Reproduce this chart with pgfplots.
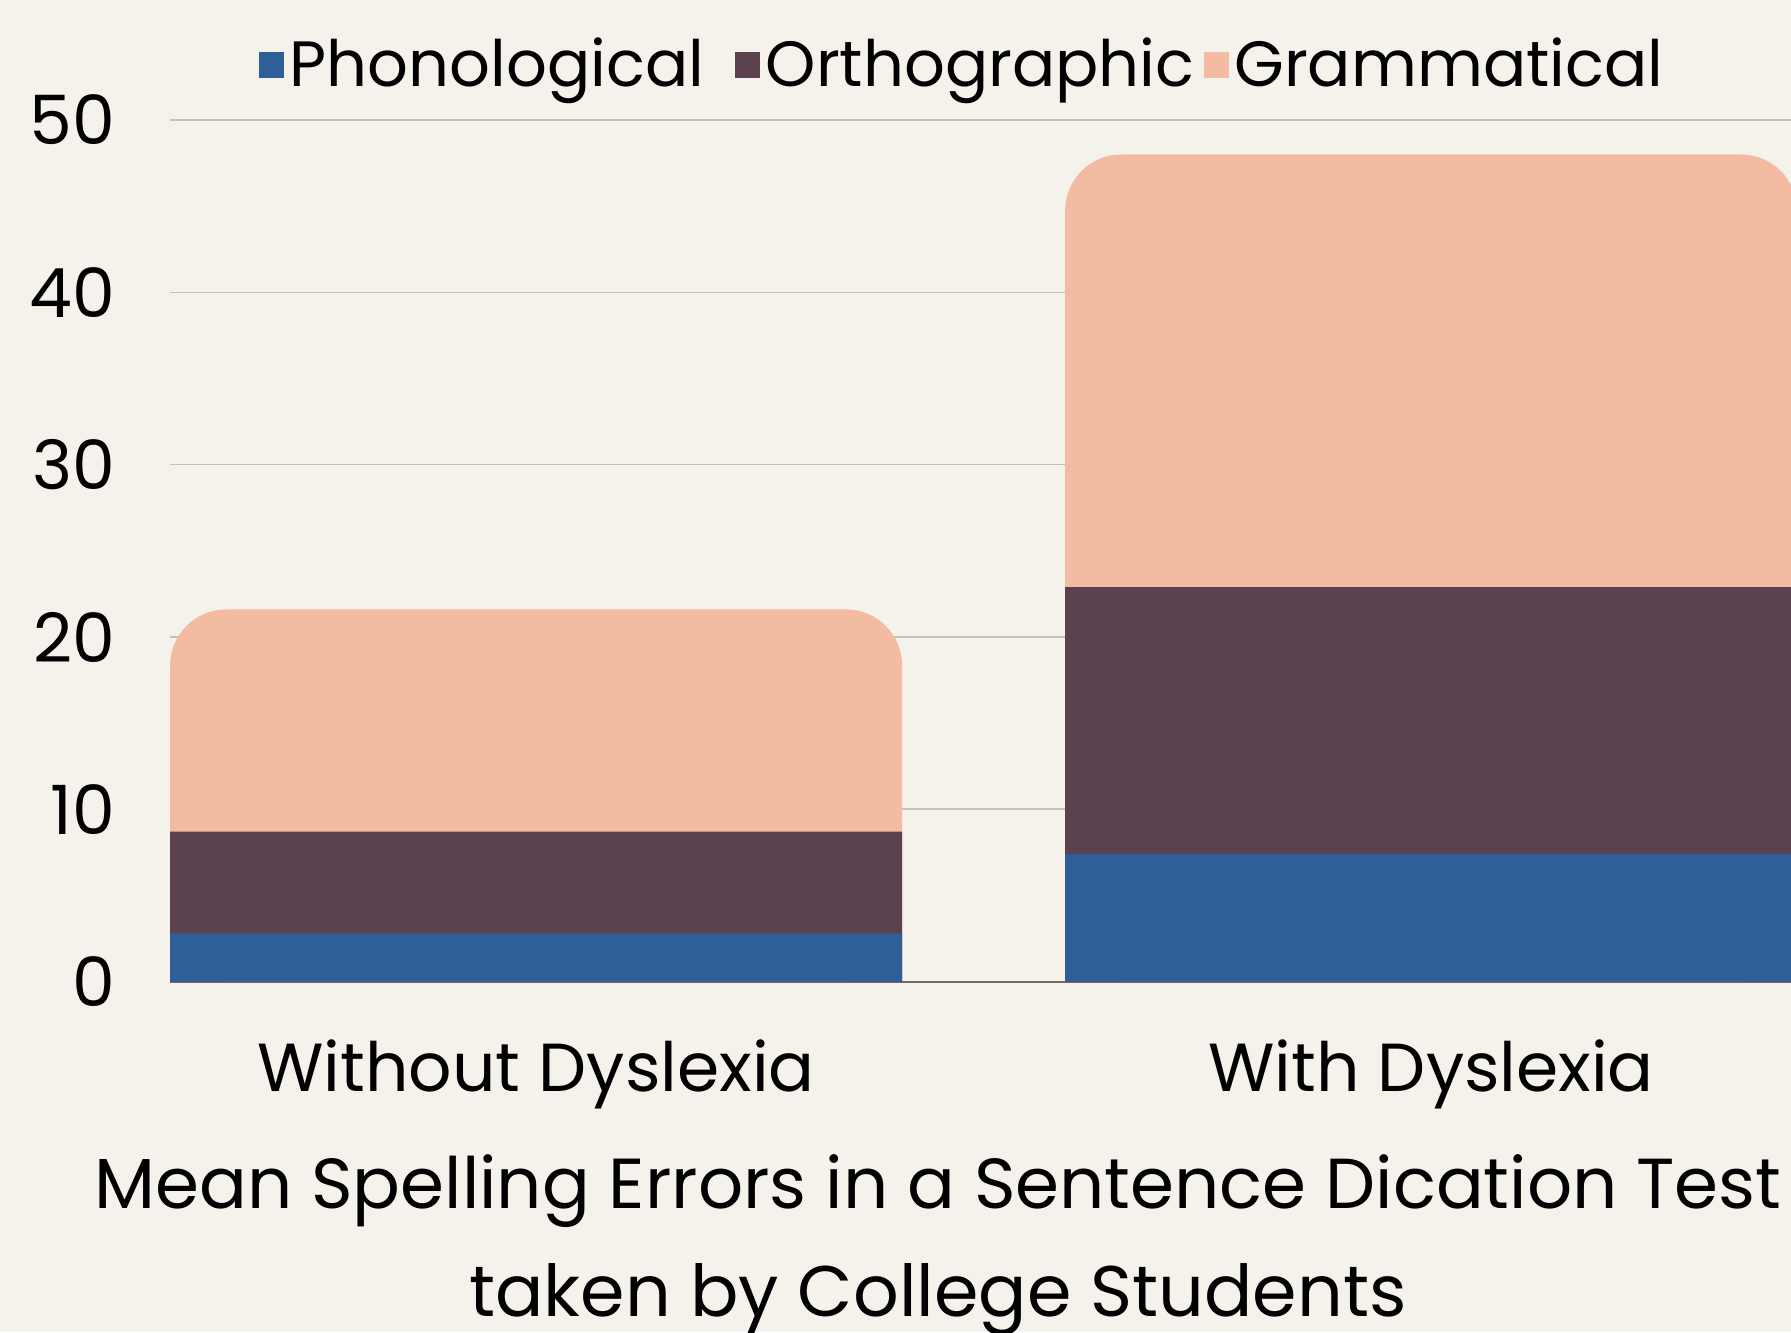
\documentclass[border=0pt]{standalone}
\usepackage{fontspec}
\setmainfont{Poppins}
\usepackage{pgfplots}
\pgfplotsset{compat=1.18}
\definecolor{bg}{HTML}{F5F2EB}
\definecolor{phon}{HTML}{2E5F98}
\definecolor{orth}{HTML}{5C424E}
\definecolor{gram}{HTML}{F2BBA2}
\definecolor{gridgray}{HTML}{C4C1BC}
\definecolor{axisgray}{HTML}{6E6A66}
\pgfplotsset{
  sqbar/.style={ybar, bar width=183pt, bar shift=0pt, draw=none, fill=#1,
    legend image code/.code={\fill[#1, sharp corners] (0pt,-3.15pt) rectangle (6.3pt,3.15pt);}},
}
\begin{document}
\begin{tikzpicture}
\fill[bg] (-42.5pt,-87.6pt) rectangle (405.25pt,245.4pt);
\begin{axis}[
  at={(0,0)}, anchor=south west,
  scale only axis, width=405.25pt, height=215.4pt,
  xmin=-0.409, xmax=1.402, ymin=0, ymax=50,
  xtick={0,1}, xticklabels={Without Dyslexia, With Dyslexia},
  ytick={0,10,...,50},
  ymajorgrids, grid style={draw=gridgray, line width=0.4pt},
  axis x line*=bottom, axis y line*=left,
  y axis line style={draw=none},
  x axis line style={draw=axisgray, line width=0.5pt, -},
  major tick length=0pt, tick style={draw=none},
  /pgf/number format/assume math mode=true,
  yticklabel style={anchor=east, inner sep=0pt, xshift=-13.5pt, font=\fontsize{17}{17}\selectfont},
  xticklabel style={anchor=base, inner sep=0pt, yshift=-27.4pt, font=\fontsize{17}{17}\selectfont},
  legend style={draw=none, fill=none, at={(0.488,1.0638)}, anchor=center,
    inner sep=0pt, nodes={inner sep=0pt}, font=\fontsize{16}{16}\selectfont,
    /tikz/every odd column/.append style={column sep=1.4pt},
    /tikz/every even column/.append style={column sep=2.3pt}},
  legend columns=-1, reverse legend,
]
% tops of the stacked segments (drawn back to front)
\addplot[sqbar=gram, rounded corners=14pt] coordinates {(0,21.6) (1,48.0)};
\addplot[sqbar=orth] coordinates {(0,8.7) (1,22.9)};
\addplot[sqbar=phon] coordinates {(0,2.8) (1,7.4)};
\legend{Grammatical, Orthographic, Phonological\kern5.4pt}
\end{axis}
\node[anchor=base, inner sep=0pt, font=\fontsize{17.7}{17.7}\selectfont] at (192pt,-56.7pt) {Mean Spelling Errors in a Sentence Dication Test};
\node[anchor=base, inner sep=0pt, font=\fontsize{17.9}{17.9}\selectfont] at (192pt,-83.6pt) {taken by College Students};
\pgfresetboundingbox
\path[use as bounding box] (-42.5pt,-87.6pt) rectangle (405.25pt,245.4pt);
\end{tikzpicture}
\end{document}
